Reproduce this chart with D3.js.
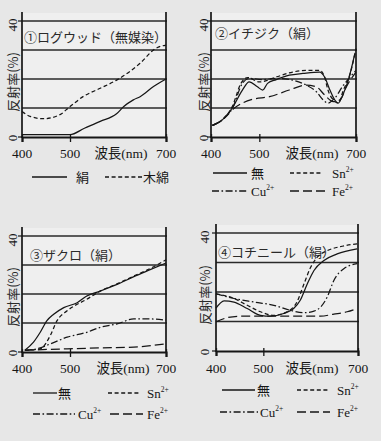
<!DOCTYPE html>
<html><head><meta charset="utf-8">
<script src="https://cdn.jsdelivr.net/npm/d3@7"></script>
<style>
html,body{margin:0;padding:0;background:#e7e7e7;}
svg{display:block;}
</style></head>
<body>
<svg id="c" width="381" height="441"></svg>
<script>
// ---- Data ----
const xTicks = [400, 500, 700];
const yTicks = [0, 40];
const gridValues = [10, 20, 30, 40];

// Panel 1 : ログウッド（無媒染）
const p1Title = "①ログウッド（無媒染）";
const p1SilkNm = [400, 450, 500, 530, 563, 597, 612, 632, 646, 674, 700];
const p1Silk   = [0.8, 0.8, 0.8, 3.0, 5.4, 8.0, 10.5, 12.8, 13.9, 17.4, 20.0];
const p1CottonNm = [400, 417, 445, 479, 500, 528, 563, 598, 646, 678, 700];
const p1Cotton   = [8.8, 7.1, 6.3, 7.7, 10.5, 14.0, 16.8, 19.7, 25.4, 30.5, 31.7];

// Panel 2 : イチジク（絹）
const p2Title = "②イチジク（絹）";
const p2NoneNm = [403, 424, 444, 465, 479, 496, 507, 517, 535, 562, 590, 625, 635, 646, 656, 663, 674, 684, 698];
const p2None   = [4.0, 6.0, 10.0, 16.2, 19.0, 17.3, 16.2, 18.5, 19.8, 21.3, 21.9, 22.4, 20.7, 16.2, 12.8, 11.7, 15.0, 19.6, 29.0];
const p2SnNm = [403, 424, 444, 462, 476, 500, 535, 569, 597, 625, 635, 642, 653, 663, 674, 688, 700];
const p2Sn   = [4.0, 6.0, 10.5, 18.5, 20.5, 19.0, 20.7, 22.4, 23.0, 23.0, 20.7, 16.2, 12.8, 11.7, 16.2, 21.9, 30.5];
const p2CuNm = [403, 424, 444, 465, 479, 507, 535, 569, 597, 618, 632, 642, 656, 674, 688, 700];
const p2Cu   = [4.0, 6.0, 9.8, 18.5, 20.2, 19.8, 20.2, 19.6, 17.9, 15.6, 12.8, 11.7, 13.4, 17.9, 20.7, 23.0];
const p2FeNm = [403, 424, 444, 465, 486, 521, 562, 597, 618, 635, 653, 667, 680, 700];
const p2Fe   = [4.0, 6.0, 9.4, 11.7, 13.0, 13.9, 16.2, 17.9, 17.3, 14.5, 12.2, 12.8, 17.3, 22.4];

// Panel 3 : ザクロ（絹）
const p3Title = "③ザクロ（絹）";
const p3NoneNm = [406, 424, 438, 452, 466, 487, 515, 535, 563, 598, 633, 667, 700];
const p3None   = [0.6, 3.4, 6.8, 10.8, 13.0, 15.3, 17.0, 19.3, 21.0, 23.3, 26.0, 28.4, 30.7];
const p3SnNm = [406, 438, 459, 473, 494, 535, 563, 598, 633, 667, 700];
const p3Sn   = [0.6, 1.1, 5.7, 10.8, 14.2, 18.2, 21.0, 23.5, 26.2, 28.8, 31.8];
const p3CuNm = [406, 431, 459, 494, 535, 563, 598, 633, 667, 700];
const p3Cu   = [0.6, 1.1, 2.8, 5.1, 6.8, 8.5, 9.7, 11.4, 11.4, 11.0];
const p3FeNm = [406, 494, 563, 633, 700];
const p3Fe   = [0.6, 1.1, 1.4, 1.7, 2.8];

// Panel 4 : コチニール（絹）
const p4Title = "④コチニール（絹）";
const p4NoneNm = [400, 417, 438, 466, 494, 515, 543, 564, 578, 593, 607, 628, 656, 698];
const p4None   = [14.5, 17.0, 16.6, 14.4, 12.1, 11.8, 12.7, 14.4, 17.2, 22.8, 27.3, 30.7, 32.9, 34.6];
const p4SnNm = [400, 438, 466, 494, 522, 550, 571, 586, 600, 614, 635, 663, 698];
const p4Sn   = [19.4, 17.8, 15.5, 13.3, 12.1, 13.3, 16.6, 22.8, 28.4, 31.8, 34.0, 35.4, 36.3];
const p4CuNm = [400, 438, 480, 522, 557, 586, 607, 621, 635, 649, 670, 698];
const p4Cu   = [19.4, 17.8, 16.6, 15.5, 13.8, 13.0, 13.5, 14.9, 18.3, 23.9, 27.9, 29.6];
const p4FeNm = [400, 424, 452, 494, 536, 578, 621, 649, 677, 698];
const p4Fe   = [9.9, 11.3, 11.8, 11.8, 11.8, 11.8, 11.8, 12.5, 13.3, 14.4];

// ---- Styles ----
const dashes = { solid: null, dash: "4,2.6", dashdot: "7,2.5,1.6,2.5", long: "9,4" };
const serif = "'Liberation Serif','Noto Sans CJK JP',serif";
const cjk = "'Noto Sans CJK JP','Noto Sans CJK SC',sans-serif";
const ink = "#161616";

const zip = (a, b) => a.map((d, i) => [d, b[i]]);

const panels = [
  { title: p1Title, x0: 22, x1: 166, yTop: 21, yBot: 137, titleX: 24, titleY: 42, yLabX: 13, tickY: 158, xLabX: 121,
    series: [ {d: zip(p1SilkNm, p1Silk), s: "solid"}, {d: zip(p1CottonNm, p1Cotton), s: "dash"} ],
    legend: [ {s: "solid", x1: 32, x2: 67, y: 177, tx: 76, t: "絹"}, {s: "dash", x1: 105, x2: 142, y: 177, tx: 143, t: "木綿"} ] },
  { title: p2Title, x0: 211, x1: 356, yTop: 21, yBot: 137, titleX: 215, titleY: 38, yLabX: 204, tickY: 158, xLabX: 312,
    series: [ {d: zip(p2NoneNm, p2None), s: "solid"}, {d: zip(p2SnNm, p2Sn), s: "dash"}, {d: zip(p2CuNm, p2Cu), s: "dashdot"}, {d: zip(p2FeNm, p2Fe), s: "long"} ],
    legend: [ {s: "solid", x1: 213, x2: 247, y: 173, tx: 251, t: "無"}, {s: "dash", x1: 290, x2: 322, y: 173, tx: 332, t: "Sn", sup: "2+"},
              {s: "dashdot", x1: 212, x2: 248, y: 191, tx: 251, t: "Cu", sup: "2+"}, {s: "long", x1: 290, x2: 325, y: 191, tx: 332, t: "Fe", sup: "2+"} ] },
  { title: p3Title, x0: 22, x1: 166, yTop: 236, yBot: 352, titleX: 30, titleY: 260, yLabX: 13, tickY: 373, xLabX: 123,
    series: [ {d: zip(p3NoneNm, p3None), s: "solid"}, {d: zip(p3SnNm, p3Sn), s: "dash"}, {d: zip(p3CuNm, p3Cu), s: "dashdot"}, {d: zip(p3FeNm, p3Fe), s: "long"} ],
    legend: [ {s: "solid", x1: 33, x2: 57, y: 393, tx: 58, t: "無"}, {s: "dash", x1: 108, x2: 140, y: 393, tx: 147, t: "Sn", sup: "2+"},
              {s: "dashdot", x1: 33, x2: 75, y: 414, tx: 78, t: "Cu", sup: "2+"}, {s: "long", x1: 110, x2: 143, y: 414, tx: 147, t: "Fe", sup: "2+"} ] },
  { title: p4Title, x0: 216, x1: 358, yTop: 233, yBot: 351, titleX: 218, titleY: 257, yLabX: 205, tickY: 373, xLabX: 312,
    series: [ {d: zip(p4NoneNm, p4None), s: "solid"}, {d: zip(p4SnNm, p4Sn), s: "dash"}, {d: zip(p4CuNm, p4Cu), s: "dashdot"}, {d: zip(p4FeNm, p4Fe), s: "long"} ],
    legend: [ {s: "solid", x1: 222, x2: 255, y: 390, tx: 257, t: "無"}, {s: "dash", x1: 297, x2: 330, y: 390, tx: 337, t: "Sn", sup: "2+"},
              {s: "dashdot", x1: 220, x2: 258, y: 412, tx: 260, t: "Cu", sup: "2+"}, {s: "long", x1: 297, x2: 330, y: 412, tx: 337, t: "Fe", sup: "2+"} ] }
];

const svg = d3.select("#c");

panels.forEach(p => {
  const x = d3.scaleLinear().domain([400, 700]).range([p.x0, p.x1]);
  const y = d3.scaleLinear().domain([0, 40]).range([p.yBot, p.yTop]);
  const g = svg.append("g");

  g.append("rect").attr("x", p.x0).attr("y", p.yTop - 8).attr("width", p.x1 - p.x0).attr("height", p.yBot - p.yTop + 8)
    .attr("fill", "#efefef");

  // grid lines
  g.selectAll(".grid").data(gridValues).join("line")
    .attr("x1", x(400)).attr("x2", x(700) + 1).attr("y1", d => y(d)).attr("y2", d => y(d))
    .attr("stroke", "#2a2a2a").attr("stroke-width", 1.3);

  // left & right axis
  [400, 700].forEach(v => {
    g.append("line").attr("x1", x(v)).attr("x2", x(v)).attr("y1", p.yTop - 9).attr("y2", p.yBot + 1)
      .attr("stroke", ink).attr("stroke-width", 1.7);
  });

  // bottom axis with ticks
  const ax = d3.axisBottom(x).tickValues(xTicks).tickSize(5).tickFormat(() => "");
  const axg = g.append("g").attr("transform", `translate(0,${p.yBot})`).call(ax);
  axg.select(".domain").attr("stroke", ink).attr("stroke-width", 2.2);
  axg.selectAll(".tick line").attr("stroke", ink).attr("stroke-width", 1.3).attr("y1", -3);

  // x tick labels
  g.selectAll(".xl").data(xTicks).join("text")
    .attr("x", d => x(d)).attr("y", p.tickY).attr("text-anchor", "middle")
    .attr("font-family", serif).attr("font-size", 13.5).attr("fill", ink).text(d => d);
  g.append("text").attr("x", p.xLabX).attr("y", p.tickY).attr("text-anchor", "middle")
    .attr("font-family", serif).attr("font-size", 13.5).attr("fill", ink).text("波長(nm)");

  // y tick labels (rotated)
  yTicks.forEach(v => {
    g.append("text").attr("transform", `translate(${p.yLabX + 4},${y(v) + (v === 0 ? 1 : 4)}) rotate(-90)`)
      .attr("text-anchor", "middle").attr("font-family", serif).attr("font-size", 13).attr("fill", ink).text(v);
    g.append("line").attr("x1", x(400) - 4).attr("x2", x(400)).attr("y1", y(v)).attr("y2", y(v))
      .attr("stroke", ink).attr("stroke-width", 1.2);
  });
  g.append("text").attr("transform", `translate(${p.yLabX + 5},${(p.yTop + p.yBot) / 2 + 3}) rotate(-90)`)
    .attr("text-anchor", "middle").attr("font-family", cjk).attr("font-size", 13).attr("fill", "#2a2a2a")
    .text("反射率(%)");

  // title
  g.append("text").attr("x", p.titleX).attr("y", p.titleY).attr("font-family", cjk).attr("font-size", 13)
    .attr("fill", "#2a2a2a").text(p.title);

  // series
  const line = d3.line().x(d => x(d[0])).y(d => y(d[1])).curve(d3.curveMonotoneX);
  p.series.forEach(s => {
    g.append("path").attr("d", line(s.d)).attr("fill", "none").attr("stroke", ink)
      .attr("stroke-width", 1.25).attr("stroke-dasharray", dashes[s.s]);
  });

  // legend
  p.legend.forEach(l => {
    g.append("line").attr("x1", l.x1).attr("x2", l.x2).attr("y1", l.y).attr("y2", l.y)
      .attr("stroke", ink).attr("stroke-width", 1.3).attr("stroke-dasharray", dashes[l.s]);
    const t = g.append("text").attr("x", l.tx).attr("y", l.y + 5).attr("font-family", serif)
      .attr("font-size", 13).attr("fill", ink).text(l.t);
    if (l.sup) t.append("tspan").attr("dy", -6).attr("font-size", 7.5).text(l.sup);
  });
});
</script>
</body></html>
